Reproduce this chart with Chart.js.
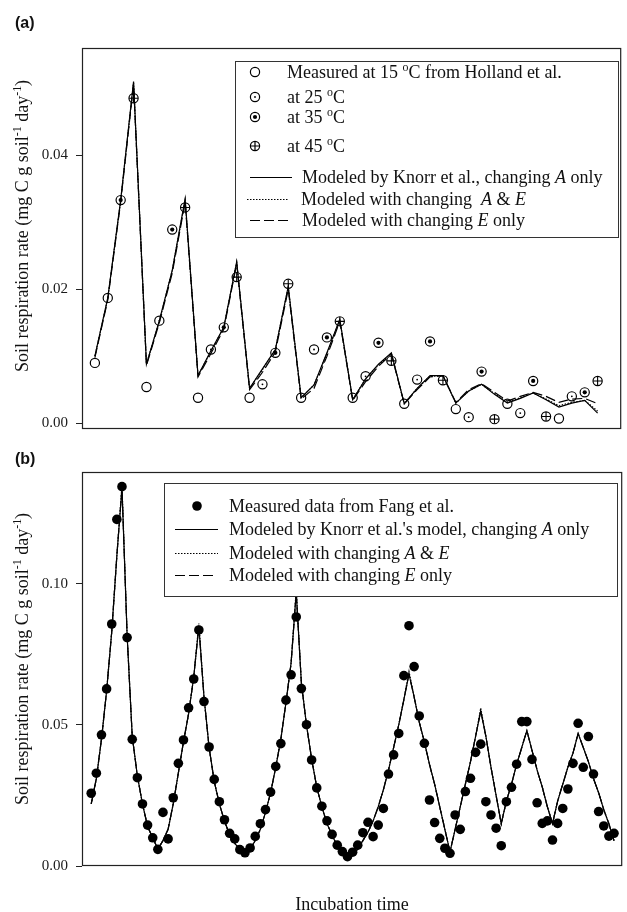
<!DOCTYPE html>
<html>
<head>
<meta charset="utf-8">
<script src="https://cdn.jsdelivr.net/npm/chart.js@4.4.0/dist/chart.umd.min.js"></script>
<style>
  body { margin: 0; background: #fff; width: 627px; height: 912px; overflow: hidden; position: relative; }
  canvas { position: absolute; left: 0; }
  #chartA { top: 0; }
  #chartB { top: 446px; }
</style>
</head>
<body>
<canvas id="chartA" width="627" height="446"></canvas>
<canvas id="chartB" width="627" height="466"></canvas>
<script>
// ---- panel (a): Holland et al., 10 incubation cycles at 15/25/35/45 C ----
const measured15 = [0.0090, 0.0054, 0.0038, 0.0038, 0.0038, 0.0038, 0.0029, 0.0021, 0.0029, 0.0007];
const measured25 = [0.0187, 0.0153, 0.0110, 0.0058, 0.0110, 0.0070, 0.0065, 0.0009, 0.0015, 0.0040];
const measured35 = [0.0333, 0.0289, 0.0143, 0.0105, 0.0128, 0.0120, 0.0122, 0.0077, 0.0063, 0.0046];
const measured45 = [0.0485, 0.0322, 0.0218, 0.0208, 0.0152, 0.0093, 0.0064, 0.0006, 0.0010, 0.0063];

// modelled rates at every sampling step (1..40)
const modelA_A = [0.0100, 0.0187, 0.0333, 0.0510, 0.0088, 0.0153, 0.0228, 0.0335, 0.0071, 0.0108,
  0.0143, 0.0241, 0.0052, 0.0081, 0.0110, 0.0204, 0.0038, 0.0057, 0.0105, 0.0155,
  0.0035, 0.0066, 0.0088, 0.0105, 0.0029, 0.0052, 0.0071, 0.0071, 0.0030, 0.0048,
  0.0058, 0.0043, 0.0030, 0.0037, 0.0045, 0.0035, 0.0024, 0.0030, 0.0034, 0.0015];
const modelA_AE = [0.0100, 0.0186, 0.0332, 0.0508, 0.0088, 0.0152, 0.0228, 0.0333, 0.0071, 0.0107,
  0.0143, 0.0240, 0.0052, 0.0080, 0.0110, 0.0203, 0.0038, 0.0057, 0.0104, 0.0154,
  0.0035, 0.0066, 0.0087, 0.0104, 0.0029, 0.0052, 0.0070, 0.0071, 0.0030, 0.0048,
  0.0058, 0.0044, 0.0031, 0.0038, 0.0045, 0.0036, 0.0026, 0.0031, 0.0034, 0.0018];
const modelA_E = [0.0098, 0.0184, 0.0330, 0.0506, 0.0086, 0.0150, 0.0224, 0.0330, 0.0069, 0.0104,
  0.0140, 0.0238, 0.0050, 0.0076, 0.0106, 0.0200, 0.0036, 0.0052, 0.0100, 0.0152,
  0.0034, 0.0062, 0.0085, 0.0103, 0.0029, 0.0050, 0.0069, 0.0071, 0.0031, 0.0050,
  0.0059, 0.0046, 0.0033, 0.0040, 0.0046, 0.0040, 0.0031, 0.0036, 0.0037, 0.0029];
const tickValsA = [0, 0.02, 0.04];

// ---- panel (b): Fang et al., 103 measurements ----
const measuredB = [0.0258, 0.0329, 0.0465, 0.0628, 0.0858, 0.1229, 0.1345, 0.0810, 0.0449, 0.0313,
  0.0220, 0.0145, 0.0100, 0.0059, 0.0190, 0.0096, 0.0242, 0.0364, 0.0447, 0.0561,
  0.0663, 0.0837, 0.0583, 0.0422, 0.0307, 0.0228, 0.0164, 0.0116, 0.0096, 0.0058,
  0.0047, 0.0064, 0.0105, 0.0150, 0.0200, 0.0262, 0.0353, 0.0434, 0.0588, 0.0678,
  0.0883, 0.0629, 0.0501, 0.0376, 0.0277, 0.0212, 0.0160, 0.0112, 0.0074, 0.0051,
  0.0033, 0.0049, 0.0074, 0.0118, 0.0155, 0.0104, 0.0145, 0.0204, 0.0326, 0.0394,
  0.0470, 0.0675, 0.0852, 0.0707, 0.0532, 0.0435, 0.0234, 0.0154, 0.0098, 0.0063,
  0.0045, 0.0181, 0.0130, 0.0264, 0.0311, 0.0403, 0.0432, 0.0228, 0.0181, 0.0134,
  0.0072, 0.0228, 0.0279, 0.0361, 0.0512, 0.0512, 0.0378, 0.0224, 0.0151, 0.0160,
  0.0092, 0.0151, 0.0204, 0.0273, 0.0364, 0.0506, 0.0350, 0.0459, 0.0326, 0.0193,
  0.0142, 0.0106, 0.0116];
const modelB_A = [0.022, 0.031, 0.045, 0.062, 0.083, 0.110, 0.134, 0.082, 0.046, 0.032,
  0.022, 0.014, 0.010, 0.006, 0.009, 0.013, 0.022, 0.033, 0.044, 0.054,
  0.067, 0.085, 0.060, 0.042, 0.030, 0.022, 0.016, 0.011, 0.008, 0.006,
  0.005, 0.006, 0.009, 0.013, 0.019, 0.026, 0.035, 0.045, 0.058, 0.072,
  0.097, 0.065, 0.050, 0.038, 0.028, 0.021, 0.015, 0.011, 0.007, 0.005,
  0.0035, 0.004, 0.006, 0.009, 0.012, 0.016, 0.021, 0.027, 0.034, 0.042,
  0.050, 0.059, 0.068, 0.060, 0.051, 0.044, 0.036, 0.029, 0.021, 0.013,
  0.005, 0.013, 0.021, 0.029, 0.037, 0.046, 0.055, 0.046, 0.035, 0.025,
  0.015, 0.023, 0.029, 0.036, 0.042, 0.048, 0.041, 0.034, 0.028, 0.021,
  0.015, 0.023, 0.029, 0.035, 0.040, 0.047, 0.042, 0.037, 0.031, 0.026,
  0.020, 0.015, 0.009];
const modelB_AE = [0.022, 0.031, 0.045, 0.062, 0.083, 0.110, 0.135, 0.082, 0.046, 0.032,
  0.022, 0.014, 0.010, 0.006, 0.009, 0.013, 0.022, 0.033, 0.044, 0.054,
  0.067, 0.086, 0.060, 0.042, 0.030, 0.022, 0.016, 0.011, 0.008, 0.006,
  0.005, 0.006, 0.009, 0.013, 0.019, 0.026, 0.035, 0.045, 0.058, 0.072,
  0.098, 0.065, 0.050, 0.038, 0.028, 0.021, 0.015, 0.011, 0.007, 0.005,
  0.0035, 0.004, 0.006, 0.009, 0.012, 0.016, 0.021, 0.027, 0.034, 0.042,
  0.050, 0.059, 0.069, 0.060, 0.051, 0.044, 0.036, 0.029, 0.021, 0.013,
  0.005, 0.013, 0.021, 0.029, 0.037, 0.046, 0.056, 0.046, 0.035, 0.025,
  0.015, 0.023, 0.029, 0.036, 0.042, 0.048, 0.041, 0.034, 0.028, 0.021,
  0.015, 0.023, 0.029, 0.035, 0.040, 0.047, 0.042, 0.037, 0.031, 0.026,
  0.020, 0.015, 0.009];
const modelB_E = [0.022, 0.031, 0.045, 0.062, 0.083, 0.110, 0.134, 0.082, 0.046, 0.032,
  0.022, 0.014, 0.010, 0.006, 0.009, 0.013, 0.022, 0.033, 0.044, 0.054,
  0.067, 0.085, 0.060, 0.042, 0.030, 0.022, 0.016, 0.011, 0.008, 0.006,
  0.005, 0.006, 0.009, 0.013, 0.019, 0.026, 0.035, 0.045, 0.058, 0.072,
  0.097, 0.065, 0.050, 0.038, 0.028, 0.021, 0.015, 0.011, 0.007, 0.005,
  0.0035, 0.004, 0.006, 0.009, 0.012, 0.016, 0.021, 0.027, 0.034, 0.042,
  0.050, 0.059, 0.068, 0.060, 0.051, 0.044, 0.036, 0.029, 0.021, 0.013,
  0.005, 0.013, 0.021, 0.029, 0.037, 0.046, 0.055, 0.046, 0.035, 0.025,
  0.015, 0.023, 0.029, 0.036, 0.042, 0.048, 0.041, 0.034, 0.028, 0.021,
  0.015, 0.023, 0.029, 0.035, 0.040, 0.047, 0.042, 0.037, 0.031, 0.026,
  0.020, 0.015, 0.009];
const tickValsB = [0, 0.05, 0.10];

const SERIF = '"Liberation Serif", "Times New Roman", serif';
const yTitle = [['Soil respiration rate (mg C g soil', ''], ['-1', 's'], [' day', ''], ['-1', 's'], [')', '']];

// marker look: outer ring + inner decoration per temperature
const RING = 4.6;
const inner = {
  '15': null,
  '25': { style: 'circle', r: 0.9, fill: true },
  '35': { style: 'circle', r: 2.1, fill: true },
  '45': { style: 'cross', r: 4.4, fill: false }
};

function drawSymbol(ctx, kind, x, y) {
  ctx.save();
  ctx.strokeStyle = '#000'; ctx.fillStyle = '#000'; ctx.lineWidth = 1.2;
  if (kind === 'dot') {
    ctx.beginPath(); ctx.arc(x, y, 4.8, 0, Math.PI * 2); ctx.fill();
    ctx.restore();
    return;
  }
  ctx.beginPath(); ctx.arc(x, y, RING, 0, Math.PI * 2); ctx.stroke();
  const d = inner[kind];
  if (d && d.fill) { ctx.beginPath(); ctx.arc(x, y, d.r, 0, Math.PI * 2); ctx.fill(); }
  if (d && !d.fill) {
    ctx.beginPath();
    ctx.moveTo(x - d.r, y); ctx.lineTo(x + d.r, y);
    ctx.moveTo(x, y - d.r); ctx.lineTo(x, y + d.r);
    ctx.stroke();
  }
  ctx.restore();
}

function segFont(k, size) {
  return (k === 'i' ? 'italic ' : '') + (k === 's' ? size * 0.66 : size) + 'px ' + SERIF;
}
function richWidth(ctx, segs, size) {
  let w = 0;
  segs.forEach(([t, k]) => { ctx.font = segFont(k, size); w += ctx.measureText(t).width; });
  return w;
}
function drawRich(ctx, x, y, segs, size) {
  let cx = x;
  segs.forEach(([t, k]) => {
    ctx.font = segFont(k, size);
    ctx.fillText(t, cx, k === 's' ? y - size * 0.4 : y);
    cx += ctx.measureText(t).width;
  });
}

const legendA = {
  box: [235, 61, 618, 237],
  rows: [
    { sym: '15', x: 255, y: 72, tx: 287, segs: [['Measured at 15 ', ''], ['o', 's'], ['C from Holland et al.', '']] },
    { sym: '25', x: 255, y: 97, tx: 287, segs: [['at 25 ', ''], ['o', 's'], ['C', '']] },
    { sym: '35', x: 255, y: 117, tx: 287, segs: [['at 35 ', ''], ['o', 's'], ['C', '']] },
    { sym: '45', x: 255, y: 146, tx: 287, segs: [['at 45 ', ''], ['o', 's'], ['C', '']] },
    { dash: [], x0: 250, x1: 292, y: 177, tx: 302, segs: [['Modeled by Knorr et al., changing ', ''], ['A', 'i'], [' only', '']] },
    { dash: [1.5, 1.5], x0: 247, x1: 289, y: 199, tx: 301, segs: [['Modeled with changing  ', ''], ['A', 'i'], [' & ', ''], ['E', 'i']] },
    { dash: [10, 4], x0: 250, x1: 289, y: 220, tx: 302, segs: [['Modeled with changing ', ''], ['E', 'i'], [' only', '']] }
  ]
};
const legendB = {
  box: [164, 37, 617, 150],
  rows: [
    { sym: 'dot', x: 197, y: 60, tx: 229, segs: [['Measured data from Fang et al.', '']] },
    { dash: [], x0: 175, x1: 218, y: 83, tx: 229, segs: [["Modeled by Knorr et al.'s model, changing ", ''], ['A', 'i'], [' only', '']] },
    { dash: [1.5, 1.5], x0: 175, x1: 218, y: 107, tx: 229, segs: [['Modeled with changing ', ''], ['A', 'i'], [' & ', ''], ['E', 'i']] },
    { dash: [10, 4], x0: 175, x1: 216, y: 129, tx: 229, segs: [['Modeled with changing ', ''], ['E', 'i'], [' only', '']] }
  ]
};

function drawLegend(ctx, lg) {
  const [x0, y0, x1, y1] = lg.box;
  ctx.fillStyle = '#fff';
  ctx.fillRect(x0, y0, x1 - x0, y1 - y0);
  ctx.strokeStyle = '#333'; ctx.lineWidth = 1;
  ctx.strokeRect(x0 + 0.5, y0 + 0.5, x1 - x0, y1 - y0);
  lg.rows.forEach(r => {
    if (r.sym) {
      drawSymbol(ctx, r.sym, r.x, r.y);
    } else {
      ctx.strokeStyle = '#000'; ctx.lineWidth = 1.2; ctx.setLineDash(r.dash);
      ctx.beginPath(); ctx.moveTo(r.x0, r.y + 0.5); ctx.lineTo(r.x1, r.y + 0.5); ctx.stroke();
      ctx.setLineDash([]);
    }
    ctx.fillStyle = '#111';
    drawRich(ctx, r.tx, r.y + 6, r.segs, 18);
  });
}

function makeDecor(cfg) {
  return {
    id: 'decor',
    afterDatasetsDraw(chart) {
      const { ctx, chartArea: a } = chart;
      ctx.save();
      ctx.strokeStyle = '#222'; ctx.lineWidth = 1.2;
      ctx.strokeRect(a.left + 0.5, a.top + 0.5, a.right - a.left - 1, a.bottom - a.top - 1);
      ctx.restore();
    },
    afterDraw(chart) {
      const ctx = chart.ctx;
      ctx.save();
      ctx.textAlign = 'left'; ctx.textBaseline = 'alphabetic';
      ctx.fillStyle = '#111';
      ctx.font = 'bold 16px "Liberation Sans", Arial, sans-serif';
      ctx.fillText(cfg.letter, 15, cfg.letterY);

      ctx.save();
      ctx.translate(28, cfg.titleY);
      ctx.rotate(-Math.PI / 2);
      const w = richWidth(ctx, yTitle, 18);
      drawRich(ctx, -w / 2, 0, yTitle, 18);
      ctx.restore();

      if (cfg.xTitle) {
        const a = chart.chartArea;
        ctx.font = '18px ' + SERIF;
        ctx.textAlign = 'center';
        ctx.fillText(cfg.xTitle, (a.left + a.right) / 2, cfg.xTitleY);
        ctx.textAlign = 'left';
      }
      drawLegend(ctx, cfg.legend);
      ctx.restore();
    }
  };
}

function yScale(min, max, ticks) {
  return {
    type: 'linear', min, max,
    afterFit: s => { s.width = 82; },
    afterBuildTicks: s => { s.ticks = ticks.map(v => ({ value: v })); },
    border: { display: false },
    grid: { drawOnChartArea: false, drawTicks: true, tickLength: 6, color: '#222', lineWidth: 1 },
    ticks: { padding: 8, color: '#1a1a1a', font: { family: SERIF, size: 15 }, callback: v => v.toFixed(2) }
  };
}

const lineDs = (values, dash, label) => ({
  label, data: values.map((v, i) => ({ x: i + 1, y: v })),
  borderColor: '#000', borderWidth: 1.2, borderDash: dash,
  pointRadius: 0, tension: 0, fill: false
});

// each temperature: a ring dataset plus (for 25/35/45) an inner-mark dataset at the same points
const tempsA = [['15', measured15], ['25', measured25], ['35', measured35], ['45', measured45]];
const pointsA = [];
tempsA.forEach(([t, vals], k) => {
  const data = vals.map((v, c) => ({ x: 4 * c + k + 1, y: v }));
  pointsA.push({
    label: t + ' C', showLine: false, data,
    pointStyle: 'circle', pointRadius: RING, pointBorderWidth: 1.2,
    pointBorderColor: '#000', pointBackgroundColor: 'rgba(0,0,0,0)'
  });
  const d = inner[t];
  if (d) {
    pointsA.push({
      label: t + ' C inner', showLine: false, data,
      pointStyle: d.style, pointRadius: d.r, pointBorderWidth: d.fill ? 0 : 1.1,
      pointBorderColor: '#000', pointBackgroundColor: '#000'
    });
  }
});

new Chart(document.getElementById('chartA'), {
  type: 'line',
  data: {
    datasets: [
      ...pointsA,
      lineDs(modelA_A, [], 'A only'),
      lineDs(modelA_AE, [1.5, 1.5], 'A & E'),
      lineDs(modelA_E, [10, 4], 'E only')
    ]
  },
  options: {
    responsive: false, animation: false, events: [],
    layout: { padding: { top: 48, bottom: 4, left: 0, right: 0 } },
    plugins: { legend: { display: false }, tooltip: { enabled: false } },
    scales: {
      x: { type: 'linear', min: 0, max: 41.83, display: false },
      y: yScale(-0.00087, 0.0560, tickValsA)
    }
  },
  plugins: [makeDecor({ letter: '(a)', letterY: 28, titleY: 226, legend: legendA })]
});

new Chart(document.getElementById('chartB'), {
  type: 'line',
  data: {
    datasets: [
      {
        label: 'Fang et al.', showLine: false,
        data: measuredB.map((v, i) => ({ x: i + 1, y: v })),
        pointStyle: 'circle', pointRadius: 4.8,
        pointBackgroundColor: '#000', pointBorderColor: '#000', pointBorderWidth: 0
      },
      lineDs(modelB_A, [], 'A only'),
      lineDs(modelB_AE, [1.5, 1.5], 'A & E'),
      lineDs(modelB_E, [10, 4], 'E only')
    ]
  },
  options: {
    responsive: false, animation: false, events: [],
    layout: { padding: { top: 26, bottom: 46, left: 0, right: 0 } },
    plugins: { legend: { display: false }, tooltip: { enabled: false } },
    scales: {
      x: { type: 'linear', min: -0.8, max: 104.6, display: false },
      y: yScale(0, 0.1397, tickValsB)
    }
  },
  plugins: [makeDecor({ letter: '(b)', letterY: 18, titleY: 213, legend: legendB, xTitle: 'Incubation time', xTitleY: 464 })]
});
</script>
</body>
</html>
